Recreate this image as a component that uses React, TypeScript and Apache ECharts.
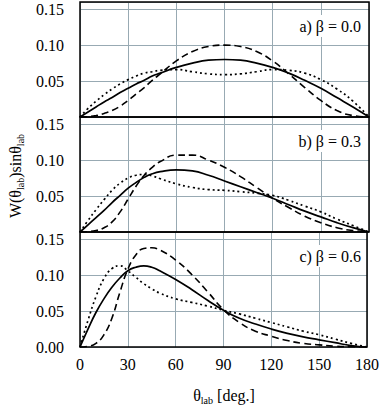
import React, { useEffect, useRef } from "react";
import * as echarts from "echarts";

const ANGLES = [0, 5, 10, 15, 20, 25, 30, 35, 40, 45, 50, 60, 70, 80, 90, 100, 110, 120, 130, 140, 150, 160, 170, 180];

// panel a) beta = 0.0
const A_SOLID = [0, 0.007, 0.014, 0.021, 0.027, 0.034, 0.040, 0.046, 0.051, 0.057, 0.061, 0.069, 0.075, 0.079, 0.080, 0.079, 0.075, 0.069, 0.061, 0.051, 0.040, 0.027, 0.014, 0];
const A_DASHED = [0, 0.0005, 0.002, 0.005, 0.009, 0.015, 0.023, 0.032, 0.041, 0.051, 0.060, 0.078, 0.091, 0.098, 0.100, 0.098, 0.091, 0.078, 0.060, 0.041, 0.023, 0.009, 0.002, 0];
const A_DOTTED = [0, 0.012, 0.022, 0.031, 0.039, 0.046, 0.052, 0.057, 0.061, 0.063, 0.065, 0.066, 0.063, 0.060, 0.059, 0.060, 0.063, 0.066, 0.065, 0.061, 0.052, 0.039, 0.022, 0];

// panel b) beta = 0.3
const B_SOLID = [0, 0.010, 0.020, 0.030, 0.041, 0.051, 0.061, 0.069, 0.076, 0.081, 0.084, 0.0865, 0.085, 0.079, 0.071, 0.063, 0.055, 0.047, 0.038, 0.029, 0.021, 0.013, 0.006, 0];
const B_DASHED = [0, 0.0005, 0.002, 0.006, 0.014, 0.028, 0.046, 0.064, 0.079, 0.090, 0.098, 0.107, 0.107, 0.100, 0.090, 0.077, 0.062, 0.047, 0.034, 0.022, 0.013, 0.006, 0.002, 0];
const B_DOTTED = [0, 0.016, 0.031, 0.045, 0.058, 0.068, 0.075, 0.079, 0.080, 0.078, 0.074, 0.067, 0.062, 0.059, 0.058, 0.056, 0.054, 0.051, 0.044, 0.036, 0.028, 0.018, 0.009, 0];

// panel c) beta = 0.6
const C_SOLID = [0, 0.025, 0.048, 0.067, 0.083, 0.096, 0.106, 0.111, 0.113, 0.111, 0.106, 0.094, 0.080, 0.065, 0.051, 0.040, 0.032, 0.025, 0.019, 0.014, 0.010, 0.006, 0.002, 0];
const C_DASHED = [0, 0.001, 0.005, 0.017, 0.040, 0.076, 0.108, 0.128, 0.137, 0.138, 0.135, 0.121, 0.101, 0.077, 0.052, 0.034, 0.022, 0.015, 0.009, 0.005, 0.003, 0.001, 0.0003, 0];
const C_DOTTED = [0, 0.037, 0.070, 0.095, 0.109, 0.113, 0.106, 0.097, 0.088, 0.081, 0.075, 0.067, 0.062, 0.057, 0.051, 0.046, 0.040, 0.034, 0.028, 0.022, 0.017, 0.011, 0.005, 0];

const PANEL_LABELS = ["a) β = 0.0", "b) β = 0.3", "c) β = 0.6"];
const X_TICKS = [0, 30, 60, 90, 120, 150, 180];
const Y_MAX = 0.16;

const PANELS = [
  { solid: A_SOLID, dashed: A_DASHED, dotted: A_DOTTED },
  { solid: B_SOLID, dashed: B_DASHED, dotted: B_DOTTED },
  { solid: C_SOLID, dashed: C_DASHED, dotted: C_DOTTED },
];

const FONT = "Times New Roman, Liberation Serif, serif";
const GRID_COLOR = "#98aab3";

export default function App() {
  const ref = useRef<HTMLDivElement>(null);
  useEffect(() => {
    if (!ref.current) return;
    const chart = echarts.init(ref.current, null, { renderer: "svg" });
    const tops = [2, 117, 232];
    const grids = tops.map((t) => ({
      left: 80,
      right: 13,
      top: t,
      height: 115,
      show: true,
      borderColor: "#000",
      borderWidth: 1.5,
      backgroundColor: "transparent",
      z: 3,
    }));
    const xAxes = tops.map((_, i) => ({
      type: "value",
      gridIndex: i,
      min: X_TICKS[0],
      max: X_TICKS[X_TICKS.length - 1],
      interval: 30,
      axisLine: { show: false },
      axisTick: { show: false },
      splitLine: { show: true, lineStyle: { color: GRID_COLOR, width: 1 } },
      axisLabel: {
        show: i === 2,
        fontFamily: FONT,
        fontSize: 16,
        color: "#000",
        margin: 9,
      },
    }));
    const yAxes = tops.map((_, i) => ({
      type: "value",
      gridIndex: i,
      min: 0,
      max: Y_MAX,
      interval: 0.05,
      axisLine: { show: false },
      axisTick: { show: false },
      splitLine: { show: true, lineStyle: { color: GRID_COLOR, width: 1 } },
      axisLabel: {
        fontFamily: FONT,
        fontSize: 16,
        color: "#000",
        margin: 16,
        showMinLabel: i === 2,
        showMaxLabel: false,
        formatter: (v: number) => (Math.abs(v - 0.16) < 1e-9 ? "" : v.toFixed(2)),
      },
    }));
    const series: any[] = [];
    PANELS.forEach((p, i) => {
      const mk = (vals: number[], type: any, width: number) => ({
        type: "line",
        xAxisIndex: i,
        yAxisIndex: i,
        data: ANGLES.map((a, k) => [a, vals[k]]),
        showSymbol: false,
        smooth: 0.5,
        silent: true,
        z: 4,
        lineStyle: { color: "#000", width, type, cap: "butt" },
      });
      series.push(mk(p.dotted, [2, 3], 1.7));
      series.push(mk(p.dashed, [7, 4], 1.6));
      series.push(mk(p.solid, "solid", 1.7));
    });
    const sub = { fontFamily: FONT, fontSize: 10, lineHeight: 10, verticalAlign: "bottom", color: "#000" };
    const norm = { fontFamily: FONT, fontSize: 16, lineHeight: 20, verticalAlign: "middle", color: "#000" };
    const graphics: any[] = PANEL_LABELS.map((t, i) => ({
      type: "text",
      x: 363,
      y: [26, 141, 256][i],
      z: 10,
      style: {
        text: t,
        font: "16px " + FONT,
        fontFamily: FONT,
        fontSize: 16,
        fill: "#000",
        align: "right",
        verticalAlign: "middle",
        backgroundColor: "#fff",
        padding: [3, 2, 3, 4],
      },
    }));
    graphics.push({
      type: "text",
      x: 15,
      y: 176,
      rotation: Math.PI / 2,
      z: 10,
      style: {
        text: "{n|W(θ}{s|lab}{n|)sinθ}{s|lab}",
        fontFamily: FONT,
        align: "center",
        verticalAlign: "middle",
        rich: { n: norm, s: sub },
      },
    });
    graphics.push({
      type: "text",
      x: 224,
      y: 395,
      z: 10,
      style: {
        text: "{n|θ}{s|lab}{n| [deg.]}",
        fontFamily: FONT,
        align: "center",
        verticalAlign: "middle",
        rich: { n: norm, s: sub },
      },
    });
    chart.setOption({
      animation: false,
      textStyle: { fontFamily: FONT },
      grid: grids,
      xAxis: xAxes,
      yAxis: yAxes,
      series,
      graphic: graphics,
    });
    return () => chart.dispose();
  }, []);
  return <div ref={ref} style={{ width: 382, height: 407, position: "absolute", left: 0, top: 0, background: "#fff" }} />;
}
